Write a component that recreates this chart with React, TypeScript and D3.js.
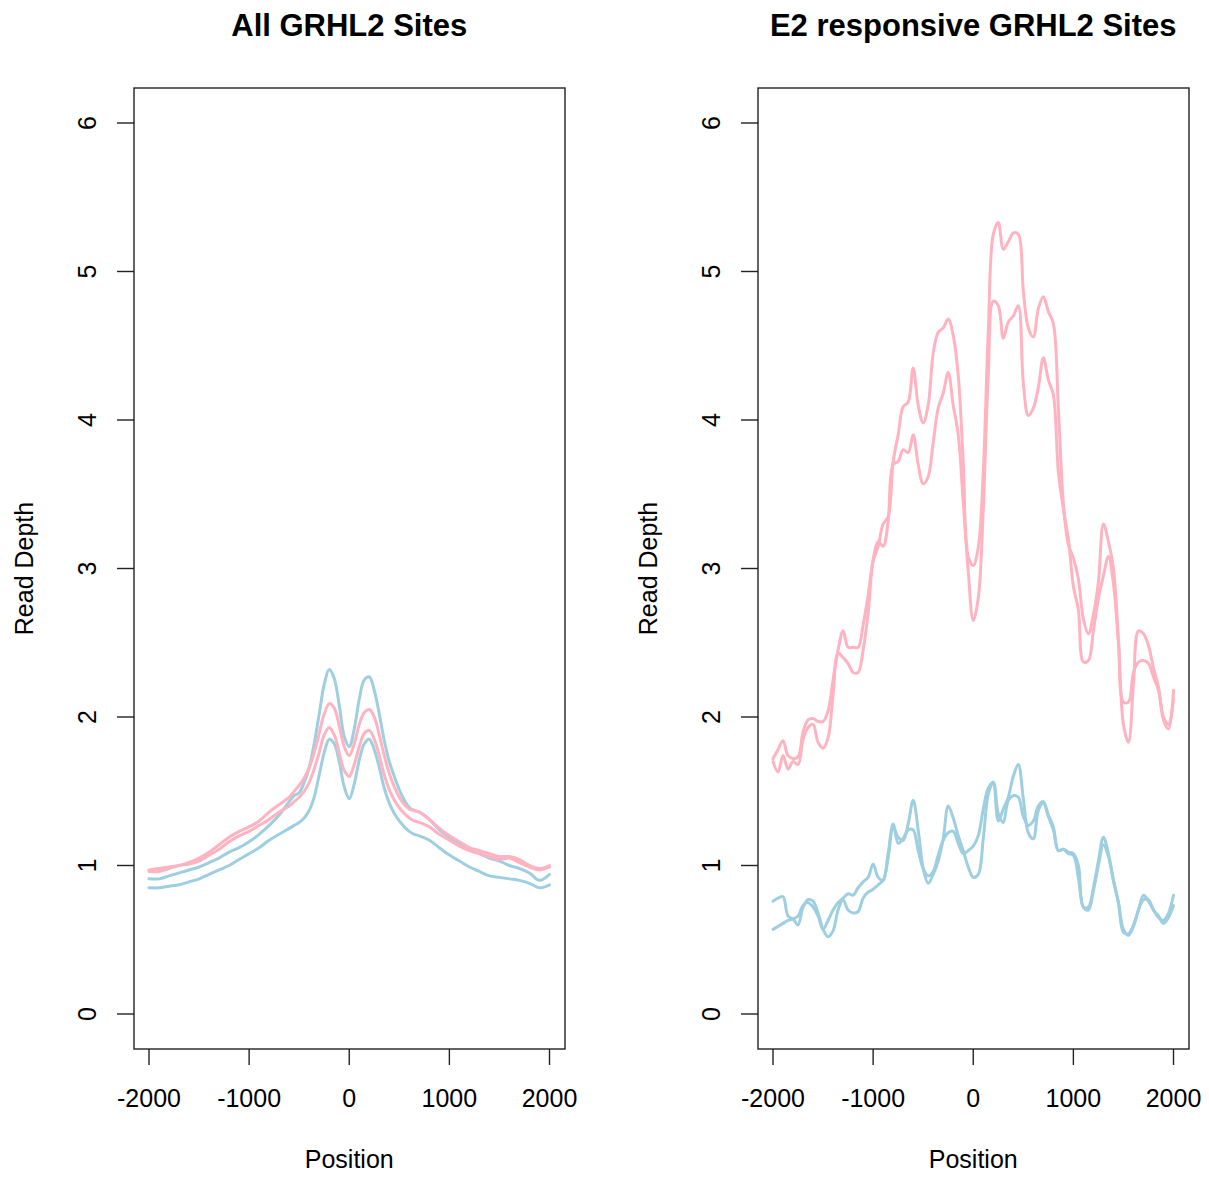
import React from "react";
import * as d3 from "d3";

// ---------- data ----------
const leftPos = [-2000,-1900,-1800,-1700,-1600,-1500,-1400,-1300,-1200,-1100,-1000,-900,-800,-700,-600,-550,-500,-450,-400,-350,-300,-250,-200,-150,-100,-50,0,50,100,150,200,250,300,350,400,450,500,550,600,650,700,800,900,1000,1100,1200,1300,1400,1500,1600,1700,1800,1900,2000];

const allBlueA = [0.91,0.91,0.93,0.95,0.97,0.99,1.02,1.05,1.09,1.12,1.16,1.21,1.27,1.34,1.43,1.47,1.49,1.56,1.66,1.82,2.02,2.22,2.32,2.26,2.08,1.87,1.80,1.92,2.12,2.25,2.27,2.18,2.02,1.84,1.70,1.60,1.51,1.44,1.39,1.37,1.36,1.31,1.24,1.19,1.15,1.11,1.08,1.05,1.03,1.00,0.98,0.95,0.90,0.94];
const allBlueB = [0.85,0.85,0.86,0.87,0.89,0.91,0.94,0.97,1.00,1.04,1.08,1.12,1.17,1.21,1.25,1.27,1.29,1.32,1.37,1.46,1.61,1.76,1.85,1.82,1.70,1.53,1.45,1.55,1.71,1.82,1.85,1.78,1.66,1.52,1.42,1.35,1.30,1.26,1.23,1.21,1.20,1.17,1.12,1.07,1.03,0.99,0.96,0.93,0.92,0.91,0.90,0.88,0.85,0.87];
const allPinkA = [0.97,0.98,0.99,1.00,1.02,1.05,1.09,1.14,1.19,1.23,1.26,1.30,1.36,1.41,1.46,1.50,1.54,1.59,1.66,1.76,1.89,2.02,2.09,2.06,1.94,1.80,1.74,1.82,1.95,2.03,2.05,2.00,1.88,1.74,1.62,1.53,1.46,1.41,1.38,1.37,1.36,1.31,1.25,1.20,1.16,1.12,1.10,1.08,1.06,1.06,1.04,1.00,0.98,1.00];
const allPinkB = [0.96,0.96,0.98,1.00,1.01,1.03,1.07,1.11,1.16,1.20,1.23,1.27,1.31,1.36,1.40,1.43,1.46,1.50,1.56,1.65,1.76,1.88,1.93,1.88,1.76,1.64,1.60,1.68,1.80,1.89,1.91,1.85,1.74,1.61,1.51,1.44,1.39,1.35,1.32,1.30,1.29,1.26,1.21,1.17,1.13,1.10,1.08,1.06,1.04,1.05,1.02,0.99,0.97,0.99];

const rightPos = d3.range(-2000, 2001, 50);

const e2PinkA = [1.72,1.78,1.84,1.74,1.72,1.73,1.90,1.98,1.99,1.97,1.97,2.04,2.25,2.45,2.58,2.47,2.47,2.47,2.62,2.82,3.05,3.15,3.30,3.35,3.72,3.90,4.09,4.12,4.35,4.10,3.98,4.10,4.45,4.59,4.62,4.68,4.57,4.30,3.72,3.08,3.02,3.14,3.65,4.60,5.25,5.33,5.15,5.20,5.26,5.25,4.87,4.62,4.56,4.75,4.83,4.73,4.65,4.08,3.44,3.16,3.07,2.93,2.66,2.56,2.69,2.91,3.30,3.18,3.00,2.52,1.95,1.83,2.22,2.58,2.56,2.48,2.33,2.20,1.98,1.92,2.18];
const e2PinkB = [1.70,1.63,1.74,1.65,1.70,1.68,1.85,1.93,1.95,1.83,1.79,1.86,2.15,2.43,2.40,2.36,2.30,2.30,2.45,2.70,3.06,3.18,3.15,3.32,3.70,3.72,3.80,3.78,3.90,3.70,3.57,3.62,3.85,4.08,4.18,4.32,4.10,3.90,3.45,2.98,2.65,2.80,3.40,4.30,4.80,4.77,4.55,4.66,4.70,4.77,4.25,4.03,4.08,4.22,4.42,4.27,4.17,3.65,3.40,3.20,2.88,2.72,2.37,2.38,2.58,2.80,2.95,3.08,2.90,2.50,2.10,2.10,2.30,2.37,2.38,2.36,2.27,2.18,2.00,1.95,2.12];
const e2BlueA = [0.76,0.78,0.79,0.66,0.64,0.60,0.72,0.77,0.76,0.68,0.57,0.52,0.56,0.70,0.77,0.70,0.68,0.69,0.78,0.82,0.84,0.87,0.90,1.05,1.26,1.19,1.17,1.28,1.44,1.24,0.98,0.88,0.94,1.03,1.18,1.40,1.32,1.20,1.10,0.99,0.92,0.94,1.18,1.48,1.56,1.30,1.38,1.46,1.60,1.68,1.45,1.22,1.18,1.37,1.42,1.33,1.24,1.10,1.11,1.09,1.08,1.00,0.72,0.72,0.85,1.03,1.19,1.08,0.90,0.75,0.55,0.54,0.60,0.70,0.80,0.76,0.70,0.65,0.63,0.68,0.80];
const e2BlueB = [0.57,0.59,0.61,0.63,0.64,0.66,0.73,0.75,0.72,0.66,0.57,0.63,0.70,0.75,0.78,0.81,0.80,0.85,0.89,0.92,1.01,0.92,0.90,1.08,1.28,1.15,1.18,1.24,1.24,1.10,0.98,0.93,0.96,1.07,1.17,1.22,1.23,1.15,1.08,1.10,1.13,1.20,1.38,1.52,1.56,1.35,1.29,1.44,1.47,1.46,1.33,1.27,1.30,1.40,1.43,1.34,1.26,1.10,1.11,1.08,1.07,0.92,0.72,0.70,0.83,1.00,1.14,1.06,0.90,0.75,0.57,0.53,0.59,0.70,0.77,0.77,0.70,0.66,0.61,0.65,0.73];

const xTicks = [-2000, -1000, 0, 1000, 2000];
const yTicks = [0, 1, 2, 3, 4, 5, 6];
const titles = ["All GRHL2 Sites", "E2 responsive GRHL2 Sites"];
const xLabel = "Position";
const yLabel = "Read Depth";

const PINK = "#FFB3C1";
const BLUE = "#9DCFE0";

type Series = { pos: number[]; vals: number[]; color: string };

const panels: { title: string; series: Series[] }[] = [
  {
    title: titles[0],
    series: [
      { pos: leftPos, vals: allBlueA, color: BLUE },
      { pos: leftPos, vals: allBlueB, color: BLUE },
      { pos: leftPos, vals: allPinkA, color: PINK },
      { pos: leftPos, vals: allPinkB, color: PINK },
    ],
  },
  {
    title: titles[1],
    series: [
      { pos: rightPos, vals: e2BlueA, color: BLUE },
      { pos: rightPos, vals: e2BlueB, color: BLUE },
      { pos: rightPos, vals: e2PinkA, color: PINK },
      { pos: rightPos, vals: e2PinkB, color: PINK },
    ],
  },
];

const FONT = "Liberation Sans, Arial, Helvetica, sans-serif";

function Panel({ offset, title, series }: { offset: number; title: string; series: Series[] }) {
  const boxL = 134 + offset;
  const boxR = 565 + offset;
  const boxT = 88;
  const boxB = 1049;
  const x = d3.scaleLinear().domain([-2000, 2000]).range([149 + offset, 549.5 + offset]);
  const y = d3.scaleLinear().domain([0, 6]).range([1014, 123]);
  const line = d3
    .line<[number, number]>()
    .x((d) => x(d[0]))
    .y((d) => y(d[1]))
    .curve(d3.curveCatmullRom.alpha(0.5));
  const cy = (boxT + boxB) / 2;
  return (
    <g>
      <text x={x(0)} y={36} textAnchor="middle" fontFamily={FONT} fontWeight="bold" fontSize={31} fill="#000">
        {title}
      </text>
      {series.map((s, i) => (
        <path
          key={i}
          d={line(s.pos.map((p, j) => [p, s.vals[j]] as [number, number])) || ""}
          fill="none"
          stroke={s.color}
          strokeWidth={3}
          strokeLinejoin="round"
          strokeLinecap="round"
        />
      ))}
      <rect x={boxL} y={boxT} width={boxR - boxL} height={boxB - boxT} fill="none" stroke="#222" strokeWidth={1.4} />
      {xTicks.map((t) => (
        <g key={t}>
          <line x1={x(t)} x2={x(t)} y1={boxB} y2={boxB + 16} stroke="#222" strokeWidth={1.4} />
          <text x={x(t)} y={1107} textAnchor="middle" fontFamily={FONT} fontSize={25} fill="#000">
            {t}
          </text>
        </g>
      ))}
      {yTicks.map((t) => (
        <g key={t}>
          <line x1={boxL - 17} x2={boxL} y1={y(t)} y2={y(t)} stroke="#222" strokeWidth={1.4} />
          <text
            transform={`translate(${96 + offset},${y(t)}) rotate(-90)`}
            textAnchor="middle"
            fontFamily={FONT}
            fontSize={25}
            fill="#000"
          >
            {t}
          </text>
        </g>
      ))}
      <text x={x(0)} y={1168} textAnchor="middle" fontFamily={FONT} fontSize={25} fill="#000">
        {xLabel}
      </text>
      <text
        transform={`translate(${33 + offset},${cy}) rotate(-90)`}
        textAnchor="middle"
        fontFamily={FONT}
        fontSize={25}
        fill="#000"
      >
        {yLabel}
      </text>
    </g>
  );
}

export default function App() {
  return (
    <svg
      width={1209}
      height={1177}
      style={{ position: "absolute", left: 0, top: 0, background: "#fff" }}
      xmlns="http://www.w3.org/2000/svg"
    >
      <rect x={0} y={0} width={1209} height={1177} fill="#fff" />
      {panels.map((p, i) => (
        <Panel key={i} offset={i * 624} title={p.title} series={p.series} />
      ))}
    </svg>
  );
}
